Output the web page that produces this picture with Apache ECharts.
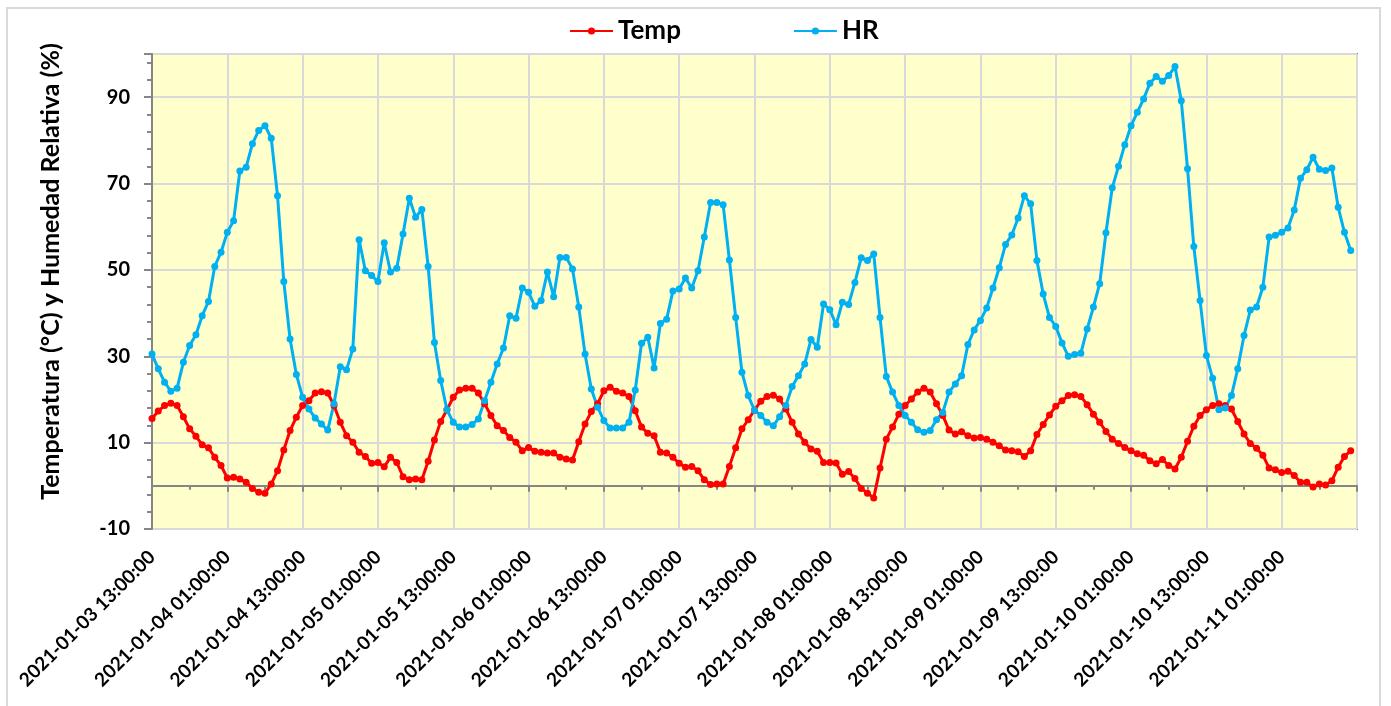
<!DOCTYPE html>
<html>
<head>
<meta charset="utf-8">
<script src="https://cdn.jsdelivr.net/npm/echarts@6/dist/echarts.min.js"></script>
<style>
html,body{margin:0;padding:0;background:#fff;}
#chart{width:1391px;height:706px;}
</style>
</head>
<body>
<div id="chart"></div>
<script>
// ---- data ----
const startTime = '2021-01-03 13:00:00';
const slotCount = 193; // hourly category slots on the axis
const seriesNames = ['Temp', 'HR'];
const yTicks = [-10, 10, 30, 50, 70, 90];

const tempValues = [
  15.6, 17.3, 18.6, 19.1, 18.6, 16.0, 13.2, 11.5, 9.5, 8.8, 6.6, 4.7,
  1.8, 2.0, 1.6, 0.8, -0.6, -1.5, -1.7, 0.4, 3.5, 8.3, 12.8, 15.9,
  18.6, 19.7, 21.5, 21.8, 21.5, 18.6, 14.7, 11.6, 10.1, 7.8, 6.8, 5.2,
  5.4, 4.4, 6.6, 5.4, 2.1, 1.4, 1.6, 1.4, 5.7, 10.6, 14.9, 17.6,
  20.5, 22.2, 22.6, 22.6, 21.5, 19.0, 16.3, 13.9, 12.8, 11.2, 10.1, 8.1,
  8.9, 8.0, 7.8, 7.6, 7.6, 6.6, 6.2, 6.0, 10.2, 14.3, 17.2, 19.0,
  22.0, 22.8, 21.9, 21.5, 20.7, 17.4, 13.6, 12.2, 11.6, 7.8, 7.6, 6.6,
  5.2, 4.3, 4.5, 3.5, 1.4, 0.3, 0.4, 0.4, 4.5, 8.8, 13.2, 15.3,
  17.5, 19.6, 20.7, 21.0, 20.1, 17.8, 14.7, 12.0, 10.1, 8.5, 8.0, 5.4,
  5.4, 5.3, 2.7, 3.3, 1.7, -0.6, -1.7, -2.8, 4.1, 10.8, 13.6, 16.6,
  18.6, 20.1, 21.7, 22.6, 21.7, 19.0, 16.3, 12.9, 12.0, 12.5, 11.6, 11.1,
  11.2, 10.8, 10.1, 9.3, 8.3, 8.1, 7.9, 6.8, 8.1, 11.9, 14.2, 16.4,
  18.4, 19.7, 20.9, 21.1, 20.7, 18.8, 16.6, 14.7, 12.6, 10.8, 9.8, 8.9,
  8.1, 7.4, 7.1, 5.8, 5.1, 6.1, 4.7, 3.9, 6.6, 10.3, 13.8, 16.3,
  17.6, 18.6, 19.0, 18.6, 17.8, 14.9, 12.0, 9.8, 8.7, 7.1, 4.1, 3.7,
  3.1, 3.4, 2.4, 0.8, 0.8, -0.3, 0.4, 0.2, 1.2, 4.3, 6.8, 8.1
];

const hrValues = [
  30.5, 27.1, 24.0, 21.9, 22.6, 28.6, 32.5, 35.0, 39.4, 42.7, 50.8, 54.1,
  58.7, 61.4, 72.9, 73.8, 79.2, 82.3, 83.4, 80.5, 67.2, 47.3, 34.0, 25.8,
  20.5, 17.8, 15.7, 14.3, 12.9, 19.0, 27.6, 26.9, 31.7, 57.0, 49.8, 48.7,
  47.3, 56.3, 49.5, 50.4, 58.3, 66.6, 62.2, 64.0, 50.8, 33.2, 24.4, 17.6,
  14.7, 13.6, 13.6, 14.2, 15.5, 19.7, 24.0, 28.2, 31.9, 39.4, 38.8, 45.8,
  44.8, 41.6, 42.9, 49.5, 43.8, 52.9, 52.9, 50.2, 41.4, 30.5, 22.4, 18.2,
  15.1, 13.4, 13.4, 13.4, 14.7, 22.2, 33.0, 34.4, 27.3, 37.6, 38.6, 45.1,
  45.6, 48.1, 45.8, 49.8, 57.6, 65.6, 65.6, 65.1, 52.3, 39.0, 26.3, 20.9,
  17.5, 16.3, 14.7, 13.9, 16.0, 18.6, 23.0, 25.5, 28.2, 33.9, 32.1, 42.1,
  40.8, 37.3, 42.5, 42.0, 47.1, 52.8, 52.2, 53.7, 39.0, 25.3, 21.7, 18.6,
  16.3, 14.7, 13.0, 12.4, 12.8, 15.3, 17.0, 21.7, 23.6, 25.5, 32.7, 36.1,
  38.3, 41.2, 45.8, 50.5, 55.9, 58.1, 62.0, 67.2, 65.3, 52.2, 44.4, 39.0,
  36.9, 33.1, 30.0, 30.4, 30.7, 36.3, 41.4, 46.8, 58.6, 69.0, 74.0, 79.0,
  83.4, 86.5, 89.6, 93.2, 94.8, 93.7, 95.0, 97.1, 89.2, 73.4, 55.4, 42.9,
  30.2, 24.9, 17.6, 18.0, 20.9, 27.1, 34.8, 40.7, 41.4, 46.0, 57.6, 58.0,
  58.7, 59.7, 63.9, 71.2, 73.2, 76.1, 73.3, 73.0, 73.6, 64.5, 58.7, 54.5
];

// hourly category labels
function pad(n){ return (n < 10 ? '0' : '') + n; }
function buildCategories(start, count){
  const m = start.match(/(\d+)-(\d+)-(\d+) (\d+):(\d+):(\d+)/);
  const t0 = Date.UTC(+m[1], +m[2]-1, +m[3], +m[4], +m[5], +m[6]);
  const out = [];
  for (let i = 0; i < count; i++){
    const d = new Date(t0 + i*3600000);
    out.push(d.getUTCFullYear() + '-' + pad(d.getUTCMonth()+1) + '-' + pad(d.getUTCDate()) + ' ' +
      pad(d.getUTCHours()) + ':' + pad(d.getUTCMinutes()) + ':' + pad(d.getUTCSeconds()));
  }
  return out;
}
const categories = buildCategories(startTime, slotCount);

// ---- chart ----
const FONT = 'Lato, "Open Sans", sans-serif';
const AXIS_GREY = '#868686';
const GRID_GREY = '#D9D9D9';
const chart = echarts.init(document.getElementById('chart'), null, {renderer: 'canvas'});

const gridBox = {left: 152, top: 54, width: 1205, height: 475};

const option = {
  backgroundColor: '#ffffff',
  animation: false,
  graphic: [{
    type: 'rect', z: -10, silent: true,
    shape: {x: 7, y: 8, width: 1373, height: 720},
    style: {fill: '#ffffff', stroke: GRID_GREY, lineWidth: 2}
  }],
  legend: {
    data: seriesNames,
    left: 564, top: 13,
    itemWidth: 43, itemHeight: 9, itemGap: 112,
    textStyle: {fontFamily: FONT, fontWeight: 'bold', fontSize: 26, color: '#000'}
  },
  grid: [
    Object.assign({show: true, backgroundColor: '#FFFFCC', borderColor: AXIS_GREY, borderWidth: 2}, gridBox),
    Object.assign({show: false}, gridBox)
  ],
  xAxis: [
    { // minor ticks + vertical gridlines, axis line on zero
      gridIndex: 0, type: 'category', data: categories, boundaryGap: false, position: 'bottom',
      axisLine: {show: true, onZero: true, lineStyle: {color: AXIS_GREY, width: 2}},
      axisTick: {show: true, interval: 5, length: 4, lineStyle: {color: AXIS_GREY, width: 2}},
      axisLabel: {show: false},
      splitLine: {show: true, interval: 11, lineStyle: {color: GRID_GREY, width: 2}}
    },
    { // labels at the bottom of the plot
      gridIndex: 0, type: 'category', data: categories, boundaryGap: false, position: 'bottom',
      axisLine: {show: false, onZero: false},
      axisTick: {show: false},
      axisLabel: {
        show: true, rotate: 45, margin: 25,
        interval: function(idx){ return idx % 12 === 0 && idx < slotCount - 1; },
        fontFamily: FONT, fontWeight: 'bold', fontSize: 19, color: '#000'
      },
      splitLine: {show: false}
    },
    { // longer major ticks at the zero line (second, overlapping grid)
      gridIndex: 1, type: 'category', data: categories, boundaryGap: false, position: 'bottom',
      axisLine: {show: true, onZero: true, lineStyle: {color: AXIS_GREY, width: 2}},
      axisTick: {show: true, interval: 11, length: 6, lineStyle: {color: AXIS_GREY, width: 2}},
      axisLabel: {show: false},
      splitLine: {show: false}
    }
  ],
  yAxis: [
    {
      gridIndex: 0, type: 'value', min: yTicks[0], max: 100, interval: 20,
      name: 'Temperatura (°C) y Humedad Relativa (%)',
      nameLocation: 'middle', nameGap: 89, nameRotate: 90,
      nameTextStyle: {fontFamily: FONT, fontWeight: 'bold', fontSize: 25, color: '#000', padding: [0,0,0,40]},
      axisLine: {show: true, lineStyle: {color: AXIS_GREY, width: 2}},
      axisTick: {show: true, length: 8, lineStyle: {color: AXIS_GREY, width: 2}},
      minorTick: {show: true, splitNumber: 5, length: 5, lineStyle: {color: AXIS_GREY, width: 2}},
      axisLabel: {
        showMaxLabel: false, margin: 22,
        fontFamily: FONT, fontWeight: 'bold', fontSize: 20, color: '#000'
      },
      splitLine: {show: true, lineStyle: {color: GRID_GREY, width: 2}}
    },
    {
      gridIndex: 1, type: 'value', min: yTicks[0], max: 100, interval: 20,
      axisLine: {show: false}, axisTick: {show: false}, axisLabel: {show: false}, splitLine: {show: false}
    }
  ],
  series: [
    {
      name: seriesNames[0], type: 'line', xAxisIndex: 0, yAxisIndex: 0, data: tempValues,
      symbol: 'circle', symbolSize: 7, showSymbol: true, showAllSymbol: true,
      itemStyle: {color: '#FF0000'}, lineStyle: {color: '#FF0000', width: 3}
    },
    {
      name: seriesNames[1], type: 'line', xAxisIndex: 0, yAxisIndex: 0, data: hrValues,
      symbol: 'circle', symbolSize: 7, showSymbol: true, showAllSymbol: true,
      itemStyle: {color: '#00B0F0'}, lineStyle: {color: '#00B0F0', width: 3}
    }
  ]
};
chart.setOption(option);
</script>
</body>
</html>
